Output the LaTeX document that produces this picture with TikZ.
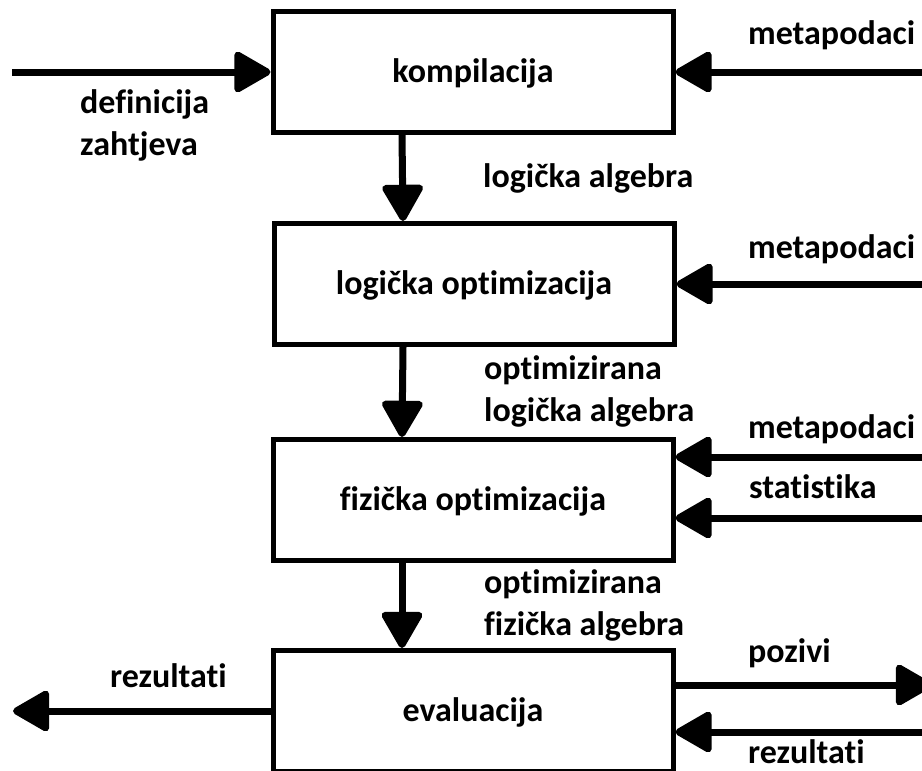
\documentclass[tikz,border=0pt]{standalone}
\usepackage{fontspec}
\setmainfont[Ligatures={NoCommon,NoRequired,NoContextual}]{Carlito}
\usetikzlibrary{arrows.meta}

\begin{document}
\begin{tikzpicture}[x=1pt, y=-1pt,
        every node/.style={font=\fontsize{34}{42}\bfseries\selectfont},
        box/.style={draw, line width=5pt, minimum width=400pt, minimum height=121pt, text height=20pt, text depth=0pt, inner sep=0pt},
        lbl/.style={anchor=base west, inner sep=0pt, align=left},
        flow/.style={line width=7pt, -{Triangle[length=40pt, width=44pt, round]}}]
        \useasboundingbox (0, 0) rectangle (922, 771);
        % boxes
        \node[box] (komp) at (473, 72) {kompilacija};
        \node[box] (logopt) at (474, 284) {logička optimizacija};
        \node[box] (fizopt) at (473, 500) {fizička optimizacija};
        \node[box] (eval) at (473, 711) {evaluacija};
        % free ends
        \coordinate (defIn) at (12, 72);
        \coordinate (meta1) at (922, 72);
        \coordinate (meta2) at (922, 284);
        \coordinate (meta3) at (922, 457);
        \coordinate (stat) at (922, 518);
        \coordinate (rezL) at (13, 711);
        \coordinate (poz) at (932, 685);
        \coordinate (rezR) at (922, 732);
        % connectors
        \draw[flow] (defIn) to (komp.west);
        \draw[flow] (meta1) to (komp.east);
        \draw[flow] ([xshift=-71pt]komp.south) to ([xshift=-71pt]logopt.north);
        \draw[flow] (meta2) to (logopt.east);
        \draw[flow] ([xshift=-71pt]logopt.south) to ([xshift=-71pt]fizopt.north);
        \draw[flow] (meta3) to (meta3 -| fizopt.east);
        \draw[flow] (stat) to (stat -| fizopt.east);
        \draw[flow] ([xshift=-71pt]fizopt.south) to ([xshift=-71pt]eval.north);
        \draw[flow] (eval.west) to (rezL);
        \draw[flow] (poz -| eval.east) to (poz);
        \draw[flow] (rezR) to (rezR -| eval.east);
        % labels
        \node[lbl] (tDef) at (80, 155) {definicija\\zahtjeva};
        \node[lbl] (tMeta1) at (748, 45) {metapodaci};
        \node[lbl] (tLog) at (483, 187) {logička algebra};
        \node[lbl] (tMeta2) at (748, 258) {metapodaci};
        \node[lbl] (tOptLog) at (484, 421) {optimizirana\\logička algebra};
        \node[lbl] (tMeta3) at (748, 438) {metapodaci};
        \node[lbl] (tStat) at (749, 498) {statistika};
        \node[lbl] (tOptFiz) at (484, 635) {optimizirana\\fizička algebra};
        \node[lbl] (tPoz) at (748, 662) {pozivi};
        \node[lbl] (tRezR) at (748, 763) {rezultati};
        \node[lbl] (tRezL) at (110, 687) {rezultati};
    \end{tikzpicture}
\end{document}
